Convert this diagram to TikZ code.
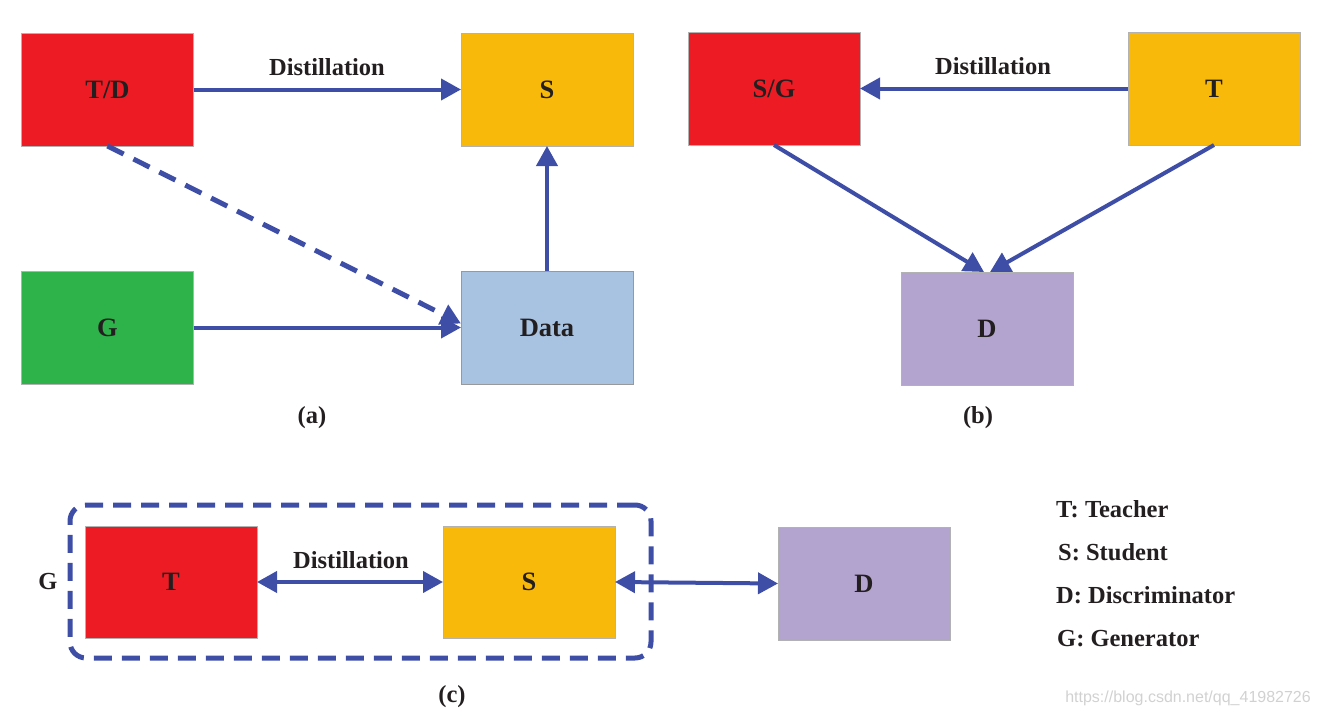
\documentclass[tikz,border=0pt]{standalone}
\usepackage{fontspec}
\setmainfont{Liberation Serif}
\newfontfamily\wmfont{Liberation Sans}
\usetikzlibrary{arrows.meta}
\definecolor{cred}{HTML}{ED1C24}
\definecolor{corange}{HTML}{F9B90A}
\definecolor{cgreen}{HTML}{2EB24A}
\definecolor{cblue}{HTML}{A8C3E1}
\definecolor{cpurple}{HTML}{B3A3CF}
\definecolor{carrow}{HTML}{3E4EA7}
\definecolor{ctext}{HTML}{231F20}
\tikzset{
  box/.style={draw=black!30, line width=0.8pt, minimum width=172pt, minimum height=113pt,
    inner sep=0pt, outer sep=0pt, font=\fontsize{26.5}{30}\selectfont\bfseries, text=ctext},
  lbl/.style={font=\fontsize{24.5}{28}\selectfont\bfseries, text=ctext, inner sep=0pt},
  tip/.tip={Triangle[length=20pt,width=21pt]},
  conn/.style={draw=carrow, line width=4pt, -tip},
  dconn/.style={draw=carrow, line width=4pt, tip-tip},
  dashconn/.style={draw=carrow, line width=5pt, dash pattern=on 18pt off 11pt, -tip},
}
\begin{document}
\begin{tikzpicture}[x=1pt,y=-1pt]
\useasboundingbox (0,0) rectangle (1320,715);
% (a)
\node[box, fill=cred] (TD) at (107.5,89.5) {T/D};
\node[box, fill=corange] (Sa) at (547,89.5) {S};
\node[box, fill=cgreen] (Ga) at (107.5,327.5) {G};
\node[box, fill=cblue, draw=black!40] (Data) at (547,327.5) {Data};
\draw[conn] (TD.east) -- (Sa.west);
\node[lbl] (la) at (327,67) {Distillation};
\draw[dashconn] (TD.south) -- ([yshift=4pt]Data.west);
\draw[conn] (Ga.east) -- (Data.west);
\draw[conn] (Data.north) -- (Sa.south);
\node[lbl] (capa) at (312,418) {(a)};
% (b)
\node[box, fill=cred] (SG) at (774,88.5) {S/G};
\node[box, fill=corange] (Tb) at (1214,88.5) {T};
\node[box, fill=cpurple] (Db) at (987,328.5) {D};
\draw[conn] (Tb.west) -- (SG.east);
\node[lbl] (lb) at (993,66) {Distillation};
\draw[conn] (SG.south) -- ([xshift=-3pt]Db.north);
\draw[conn] (Tb.south) -- ([xshift=3pt]Db.north);
\node[lbl] (capb) at (978,418) {(b)};
% (c)
\node[draw=carrow, line width=5pt, dash pattern=on 18pt off 10pt, rounded corners=16pt,
  minimum width=581pt, minimum height=153pt, inner sep=0pt] (grp) at (360.5,581.5) {};
\node[box, fill=cred, minimum height=112pt] (Tc) at (171,582) {T};
\node[box, fill=corange, minimum height=112pt] (Sc) at (529,582) {S};
\node[box, fill=cpurple] (Dc) at (864,583.5) {D};
\draw[dconn] (Tc.east) -- (Sc.west);
\node[lbl] (lc) at (351,560) {Distillation};
\draw[dconn] (Sc.east) -- (Dc.west);
\node[lbl] (Gl) at (48,582) {G};
\node[lbl] (capc) at (452,697) {(c)};
% legend
\node[lbl, anchor=base west] (l1) at (1056,517) {T: Teacher};
\node[lbl, anchor=base west] (l2) at (1058,560) {S: Student};
\node[lbl, anchor=base west] (l3) at (1056,603) {D: Discriminator};
\node[lbl, anchor=base west] (l4) at (1057,646) {G: Generator};
\node[anchor=base east, inner sep=0pt, text=black!18, font=\wmfont\fontsize{16}{18}\selectfont] (wm) at (1311,702) {https://blog.csdn.net/qq\_41982726};
\end{tikzpicture}
\end{document}
